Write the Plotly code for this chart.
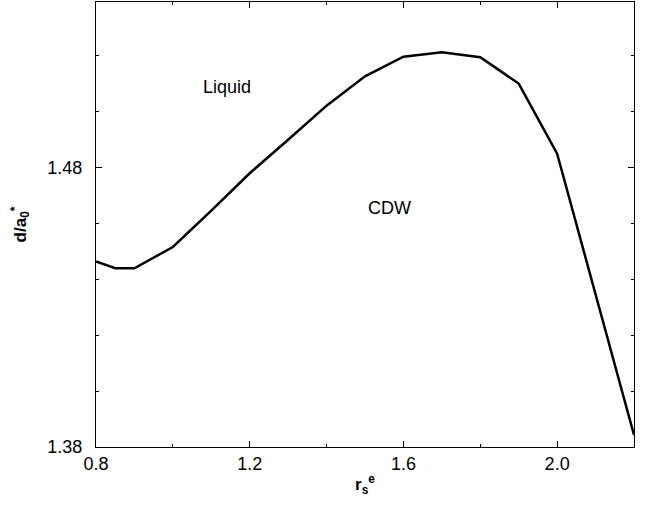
import plotly.graph_objects as go

rs = [0.8, 0.85, 0.9, 1.0, 1.1, 1.2, 1.3, 1.4, 1.5, 1.6, 1.7, 1.8, 1.9, 2.0, 2.2]
d = [1.4464, 1.4440, 1.4440, 1.4516, 1.4646, 1.4780, 1.4900, 1.5022, 1.5127,
     1.5197, 1.5213, 1.5195, 1.5101, 1.4850, 1.3843]

region_labels = ["Liquid", "CDW"]
region_x = [1.142, 1.565]
region_y = [1.509, 1.4655]

fig = go.Figure()
fig.add_trace(go.Scatter(x=rs, y=d, mode="lines",
                         line=dict(color="black", width=2.5), showlegend=False))
for t, xx, yy in zip(region_labels, region_x, region_y):
    fig.add_annotation(x=xx, y=yy, text=t, showarrow=False,
                       font=dict(size=18, color="black", family="Liberation Sans"))

axis_common = dict(showgrid=False, zeroline=False, showline=True, linecolor="black",
                   linewidth=1.2, mirror="allticks", ticks="inside", ticklen=6,
                   tickwidth=1.2, tickcolor="black",
                   tickfont=dict(size=18, color="black", family="Liberation Sans"))

fig.update_xaxes(range=[0.8, 2.2], tick0=0.8, dtick=0.4, tickformat=".1f",
                 minor=dict(dtick=0.2, tick0=0.8, ticks="inside", ticklen=3,
                            tickcolor="black", tickwidth=1),
                 title=dict(text="<b>r<sub>s</sub><sup>e</sup></b>", standoff=5,
                            font=dict(size=17, color="black", family="Liberation Sans")),
                 **axis_common)
fig.update_yaxes(range=[1.38, 1.5393], tick0=1.38, dtick=0.1, tickformat=".2f",
                 ticklabelstandoff=9,
                 minor=dict(dtick=0.02, tick0=1.38, ticks="inside", ticklen=3,
                            tickcolor="black", tickwidth=1),
                 title=dict(text="<b>d/a<sub>0</sub><sup>*</sup></b>", standoff=16,
                            font=dict(size=17, color="black", family="Liberation Sans")),
                 **axis_common)

fig.update_layout(width=647, height=506, plot_bgcolor="white", paper_bgcolor="white",
                  margin=dict(l=96, r=13, t=2, b=59))
fig.write_html("out.html")
